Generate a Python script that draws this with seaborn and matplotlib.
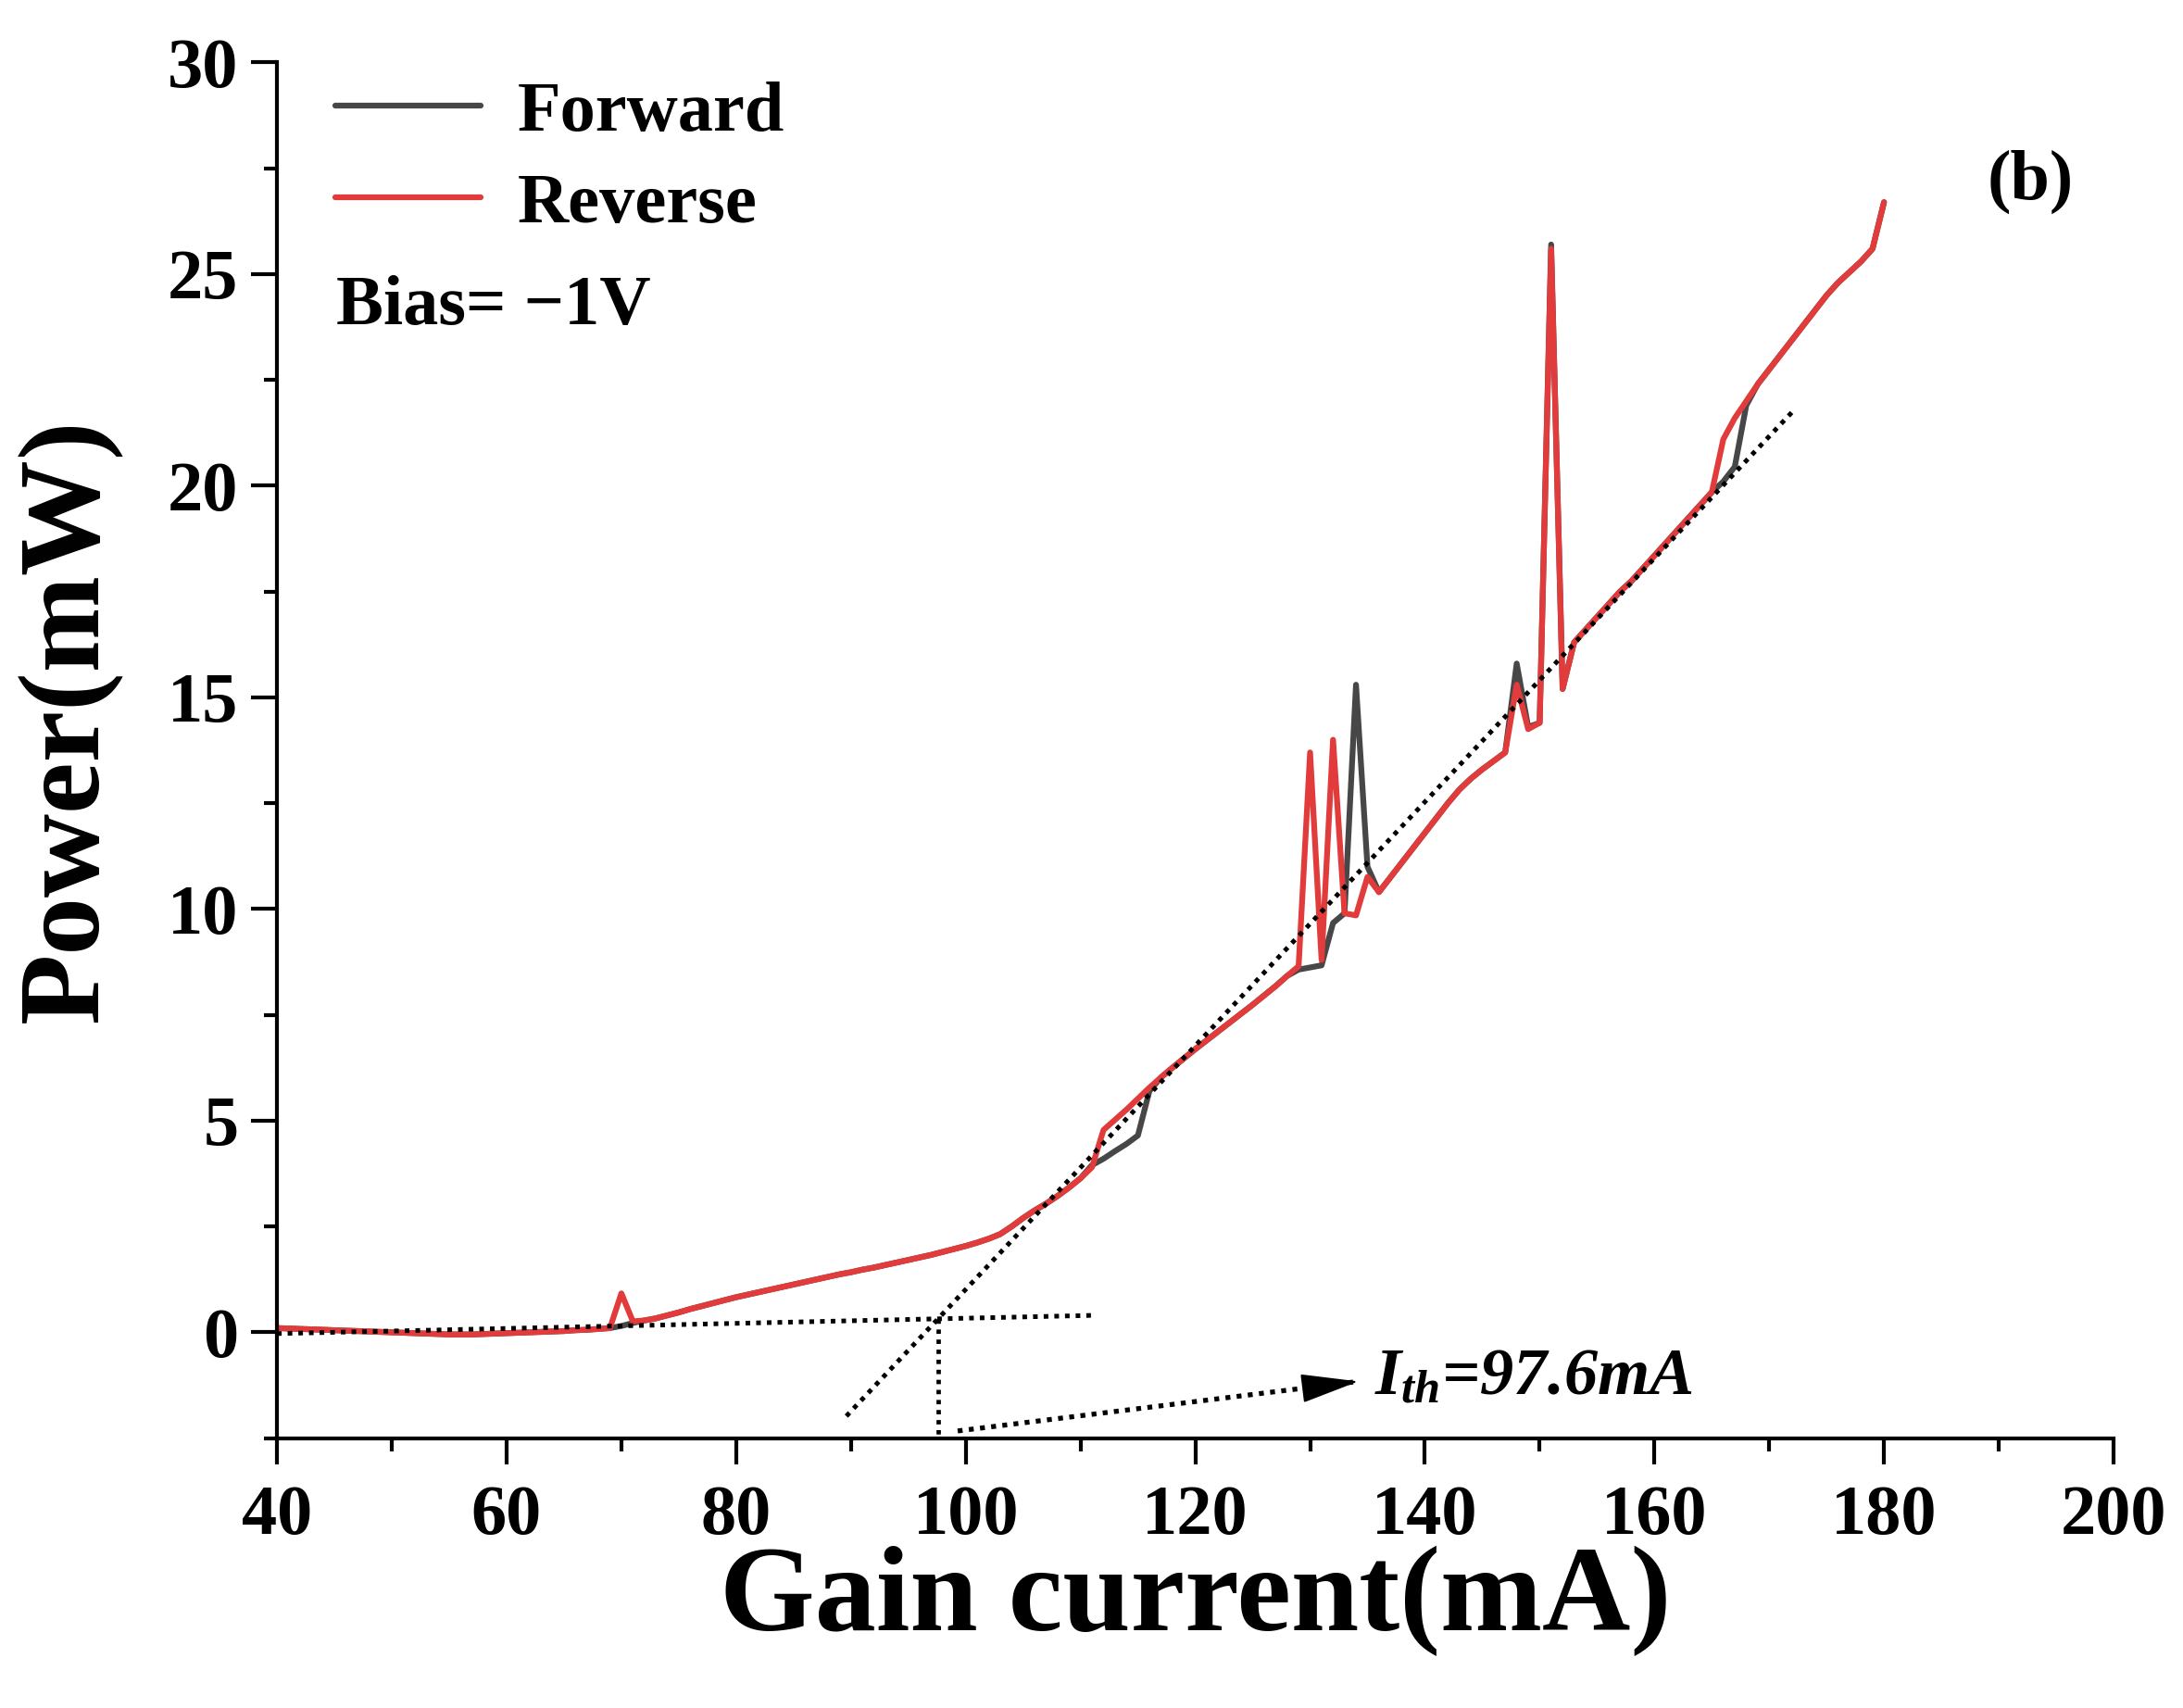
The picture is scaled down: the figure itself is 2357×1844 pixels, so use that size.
import matplotlib
matplotlib.use("Agg")
import matplotlib.pyplot as plt
import numpy as np
import pandas as pd
import seaborn as sns
from matplotlib.ticker import MultipleLocator

# ---------------- data ----------------
current = list(range(40, 181))

reverse_power = [
    0.10, 0.09, 0.08, 0.07, 0.06, 0.05, 0.04, 0.03, 0.02, 0.01,      # 40-49
    0.00, -0.01, -0.02, -0.03, -0.04, -0.05, -0.05, -0.05, -0.04, -0.03,  # 50-59
    -0.02, -0.01, 0.00, 0.01, 0.02, 0.03, 0.05, 0.06, 0.08, 0.10,    # 60-69
    0.92, 0.26, 0.28, 0.33, 0.40, 0.47, 0.55, 0.62, 0.69, 0.76,      # 70-79
    0.83, 0.89, 0.95, 1.01, 1.07, 1.13, 1.19, 1.25, 1.31, 1.37,      # 80-89
    1.42, 1.48, 1.53, 1.59, 1.65, 1.71, 1.77, 1.83, 1.90, 1.97,      # 90-99
    2.04, 2.12, 2.21, 2.32, 2.50, 2.70, 2.88, 3.04, 3.22, 3.42,      # 100-109
    3.64, 3.90, 4.78, 5.02, 5.26, 5.52, 5.78, 6.02, 6.25, 6.47,      # 110-119
    6.69, 6.90, 7.11, 7.32, 7.53, 7.74, 7.96, 8.18, 8.42, 8.65,      # 120-129
    13.70, 8.80, 14.00, 9.90, 9.85, 10.76, 10.40, 10.75, 11.10, 11.45,  # 130-139
    11.80, 12.15, 12.50, 12.82, 13.08, 13.30, 13.50, 13.70, 15.30, 14.25,  # 140-149
    14.40, 25.60, 15.20, 16.30, 16.60, 16.90, 17.20, 17.50, 17.75, 18.05,  # 150-159
    18.35, 18.65, 18.95, 19.25, 19.55, 19.85, 21.10, 21.60, 22.00, 22.40,  # 160-169
    22.75, 23.10, 23.45, 23.80, 24.15, 24.50, 24.80, 25.05, 25.30, 25.60,  # 170-179
    26.70,                                                            # 180
]

forward_power = [
    0.10, 0.09, 0.08, 0.07, 0.06, 0.05, 0.04, 0.03, 0.02, 0.01,
    0.00, -0.01, -0.02, -0.03, -0.04, -0.05, -0.05, -0.05, -0.04, -0.03,
    -0.02, -0.01, 0.00, 0.01, 0.02, 0.03, 0.05, 0.06, 0.08, 0.10,
    0.15, 0.22, 0.28, 0.33, 0.40, 0.47, 0.55, 0.62, 0.69, 0.76,
    0.83, 0.89, 0.95, 1.01, 1.07, 1.13, 1.19, 1.25, 1.31, 1.37,
    1.42, 1.48, 1.53, 1.59, 1.65, 1.71, 1.77, 1.83, 1.90, 1.97,
    2.04, 2.12, 2.21, 2.32, 2.50, 2.70, 2.88, 3.04, 3.22, 3.42,
    3.64, 3.95, 4.10, 4.28, 4.45, 4.65, 5.70, 6.02, 6.25, 6.47,
    6.69, 6.90, 7.11, 7.32, 7.53, 7.74, 7.96, 8.18, 8.42, 8.57,
    8.62, 8.67, 9.67, 9.90, 15.30, 11.00, 10.40, 10.75, 11.10, 11.45,
    11.80, 12.15, 12.50, 12.82, 13.08, 13.30, 13.50, 13.70, 15.80, 14.30,
    14.40, 25.70, 15.20, 16.30, 16.60, 16.90, 17.20, 17.50, 17.75, 18.05,
    18.35, 18.65, 18.95, 19.25, 19.55, 19.85, 20.10, 20.45, 21.90, 22.40,
    22.75, 23.10, 23.45, 23.80, 24.15, 24.50, 24.80, 25.05, 25.30, 25.60,
    26.70,
]

# linear fits (dotted guide lines)
below_fit_x = [40.0, 111.0]
below_fit_y = [-0.03, 0.40]
above_fit_x = [89.6, 172.3]
above_fit_y = [-1.98, 21.83]
threshold_current = 97.6
threshold_drop_y = [0.32, -2.45]
arrow_start = (99.3, -2.33)
arrow_end = (134.2, -1.16)
label_pos = (135.6, -1.46)

x_ticks = [40, 60, 80, 100, 120, 140, 160, 180, 200]
y_ticks = [0, 5, 10, 15, 20, 25, 30]

# ---------------- style ----------------
sns.set_theme(style="ticks")
plt.rcParams["font.family"] = ["Liberation Serif", "DejaVu Serif"]
plt.rcParams["font.weight"] = "bold"
plt.rcParams["text.color"] = "black"
plt.rcParams["axes.labelcolor"] = "black"
plt.rcParams["xtick.color"] = "black"
plt.rcParams["ytick.color"] = "black"
plt.rcParams["xtick.labelcolor"] = "black"
plt.rcParams["ytick.labelcolor"] = "black"
plt.rcParams["mathtext.fontset"] = "custom"
plt.rcParams["mathtext.it"] = "Liberation Serif:italic:bold"
plt.rcParams["mathtext.rm"] = "Liberation Serif:bold"
plt.rcParams["mathtext.bf"] = "Liberation Serif:bold"

fig = plt.figure(figsize=(23.57, 18.44), dpi=100)
fig.patch.set_facecolor("white")
ax = fig.add_axes([0.1269, 0.1580, 0.8413, 0.8054])
ax.set_facecolor("white")

df = pd.DataFrame({"current": current,
                   "Forward": forward_power,
                   "Reverse": reverse_power})

sns.lineplot(data=df, x="current", y="Forward", color="#474747",
             linewidth=4.5, label="Forward", ax=ax)
sns.lineplot(data=df, x="current", y="Reverse", color="#e23b3b",
             linewidth=4.5, label="Reverse", ax=ax)

dot = (0, (1, 1.3))
ax.plot(below_fit_x, below_fit_y, color="black", linewidth=3.6, linestyle=dot)
ax.plot(above_fit_x, above_fit_y, color="black", linewidth=3.6, linestyle=dot)
ax.plot([threshold_current, threshold_current], threshold_drop_y,
        color="black", linewidth=3.4, linestyle=dot)

# dotted arrow shaft + solid filled head
ax.plot([arrow_start[0], arrow_end[0]], [arrow_start[1], arrow_end[1]],
        color="black", linewidth=3.8, linestyle=dot)
head_base = (arrow_end[0] - 0.08 * (arrow_end[0] - arrow_start[0]),
             arrow_end[1] - 0.08 * (arrow_end[1] - arrow_start[1]))
ax.annotate("", xy=arrow_end, xytext=head_base,
            arrowprops=dict(arrowstyle="-|>,head_length=1.0,head_width=0.25",
                            linewidth=1.5, color="black",
                            shrinkA=0, shrinkB=0, mutation_scale=40))
ax.text(label_pos[0], label_pos[1], r"$I_{th}$=97.6mA", fontsize=52,
        fontstyle="italic", fontweight="bold", va="baseline", ha="left")

# axes
ax.set_xlim(40, 200)
ax.set_ylim(-2.5, 30)
ax.set_xticks(x_ticks)
ax.set_yticks(y_ticks)
ax.xaxis.set_minor_locator(MultipleLocator(10))
ax.yaxis.set_minor_locator(MultipleLocator(2.5))
ax.tick_params(which="major", length=20, width=3, direction="out",
               labelsize=55, color="black", labelcolor="black")
ax.tick_params(axis="x", which="major", pad=16)
ax.tick_params(axis="y", which="major", pad=10)
ax.tick_params(which="minor", length=10, width=3, direction="out", color="black")
for lbl in ax.get_xticklabels() + ax.get_yticklabels():
    lbl.set_fontweight("bold")

sns.despine(ax=ax)
for s in ("left", "bottom"):
    ax.spines[s].set_linewidth(3)
    ax.spines[s].set_color("black")

ax.set_xlabel("Gain current(mA)", fontsize=95, fontweight="bold", va="center",
              color="black")
ax.set_ylabel("Power(mW)", fontsize=90, fontweight="bold", va="center",
              color="black")
ax.xaxis.set_label_coords(0.5, -0.118)
ax.yaxis.set_label_coords(-0.113, 0.522)

leg = ax.legend(loc="upper left", bbox_to_anchor=(0.1536, 0.9528),
                bbox_transform=fig.transFigure, frameon=False,
                prop={"size": 55, "weight": "bold"}, handlelength=2.05,
                handletextpad=0.52, labelspacing=0.39, borderpad=0,
                borderaxespad=0)
for t in leg.get_texts():
    t.set_color("black")

fig.text(0.1542, 0.8102, "Bias= \u22121V", fontsize=55, fontweight="bold",
         va="baseline", ha="left", color="black")
fig.text(0.9105, 0.8834, "(b)", fontsize=55, fontweight="bold",
         va="baseline", ha="left", color="black")

fig.savefig("out.png", dpi=100, facecolor="white")
